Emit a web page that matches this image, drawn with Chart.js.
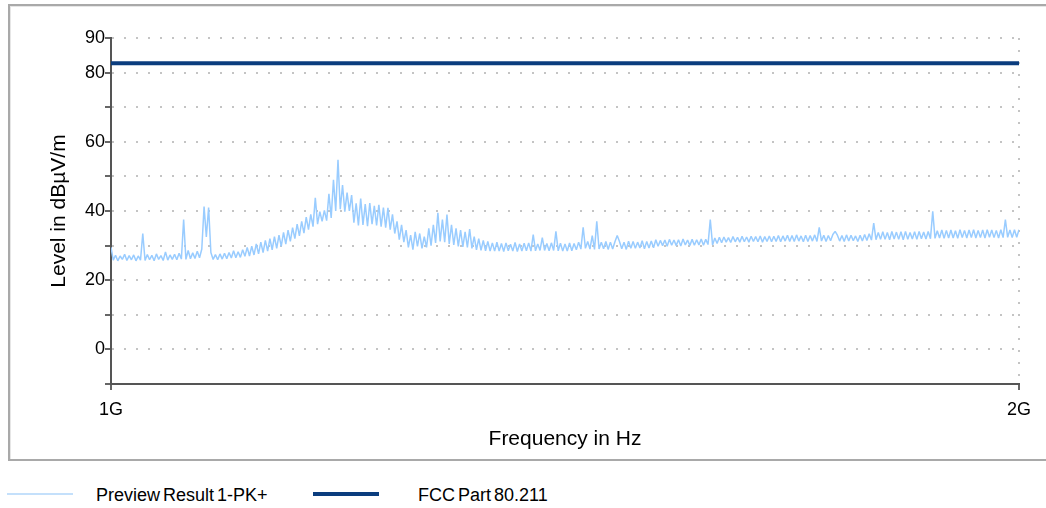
<!DOCTYPE html>
<html>
<head>
<meta charset="utf-8">
<script src="https://cdn.jsdelivr.net/npm/chart.js@4.4.1/dist/chart.umd.min.js"></script>
<style>
  html, body { margin: 0; padding: 0; background: #fff; width: 1046px; height: 508px; overflow: hidden; position: relative; font-family: "Liberation Sans", Arial, sans-serif; }
  #frame { position: absolute; left: 8px; top: 4px; width: 1060px; height: 453px; border: 2px solid #a9a9a9; box-shadow: inset 1px 1px 0 #e6e6e6; }
  #c { position: absolute; left: 0; top: 0; }
  .sw { position: absolute; display: block; }
  .lt { position: absolute; font-size: 18px; line-height: 20px; color: #000; white-space: nowrap; word-spacing: -2px; }
</style>
</head>
<body>
<div id="frame"></div>
<canvas id="c" width="1046" height="470"></canvas>
<div id="legend"></div>
<script>
// ---- data ----
const sweepStartMHz = 1000;   // first sweep point
const sweepStepMHz = 2.5;     // sweep step
const previewLevels = [
  29.5, 25.8, 27.2, 25.6, 27.0, 26.0, 27.5, 25.7, 27.1, 25.9,
  27.3, 25.6, 27.0, 25.8, 33.5, 25.7, 27.4, 25.9, 27.2, 25.6,
  27.6, 26.0, 27.1, 25.7, 28.2, 25.8, 27.3, 26.0, 27.5, 25.9,
  27.8, 26.1, 37.5, 26.0, 28.6, 26.2, 27.9, 26.3, 28.4, 26.5,
  29.0, 41.3, 32.5, 41.0, 28.0, 26.0, 27.4, 25.9, 27.6, 26.1,
  27.8, 26.2, 28.0, 26.4, 28.5, 26.5, 28.2, 26.6, 28.8, 26.9,
  29.5, 27.0, 29.8, 27.3, 30.5, 27.6, 31.0, 28.0, 31.5, 28.4,
  32.0, 28.8, 32.6, 29.2, 33.0, 29.8, 33.8, 30.4, 34.5, 31.2,
  35.2, 32.0, 36.2, 32.8, 37.0, 33.6, 38.2, 34.6, 39.0, 35.5,
  43.8, 36.2, 39.8, 37.0, 40.2, 37.2, 45.0, 38.0, 49.0, 40.0,
  54.8, 40.5, 47.5, 39.8, 45.3, 40.0, 44.6, 36.6, 42.2, 35.8,
  43.6, 36.0, 42.0, 35.6, 42.3, 36.2, 41.5, 35.8, 41.8, 35.5,
  41.0, 35.2, 40.9, 34.6, 39.0, 33.5, 37.0, 31.7, 36.0, 31.0,
  34.5, 29.5, 33.0, 28.8, 34.0, 29.8, 33.5, 29.2, 32.6, 29.5,
  35.0, 30.0, 36.0, 30.8, 39.5, 31.2, 37.5, 31.0, 39.0, 30.5,
  36.0, 30.2, 35.0, 29.8, 34.5, 29.6, 34.0, 29.5, 34.8, 29.2,
  32.6, 28.8, 32.0, 28.6, 31.5, 28.5, 31.2, 28.4, 30.8, 28.4,
  31.0, 28.4, 30.6, 28.3, 30.8, 28.5, 30.4, 28.4, 30.9, 28.3,
  30.5, 28.4, 30.7, 28.5, 30.8, 28.4, 33.2, 28.5, 30.5, 28.6,
  32.3, 28.6, 30.6, 28.5, 30.8, 28.6, 34.1, 28.5, 30.7, 28.4,
  30.5, 28.4, 30.8, 28.5, 30.6, 28.8, 31.0, 29.0, 35.3, 29.2,
  31.2, 29.0, 32.9, 28.9, 37.0, 29.0, 31.0, 29.1, 31.2, 28.9,
  31.0, 29.0, 31.1, 32.9, 31.2, 29.1, 31.0, 28.9, 31.3, 29.2,
  31.2, 29.2, 31.0, 29.3, 31.4, 29.1, 31.2, 29.3, 31.3, 29.4,
  31.7, 29.8, 31.5, 30.0, 31.6, 29.8, 31.8, 30.1, 31.6, 30.0,
  31.7, 29.9, 31.9, 30.2, 31.6, 30.0, 31.8, 30.1, 31.7, 30.2,
  31.9, 30.1, 31.8, 30.3, 37.5, 30.2, 32.2, 30.6, 32.4, 30.8,
  32.5, 31.0, 32.3, 30.9, 32.6, 31.1, 32.4, 31.0, 32.7, 31.1,
  32.5, 31.0, 32.7, 31.2, 32.6, 31.1, 32.8, 31.0, 32.6, 31.2,
  32.8, 31.1, 32.7, 31.2, 32.9, 31.1, 32.8, 31.3, 33.0, 31.2,
  32.9, 31.2, 33.1, 31.3, 32.8, 31.1, 33.0, 31.2, 32.9, 31.3,
  33.1, 31.2, 35.3, 31.3, 33.0, 31.2, 32.9, 31.4, 33.2, 34.1,
  33.0, 31.3, 32.9, 31.2, 33.1, 31.3, 33.0, 31.4, 32.8, 31.2,
  33.0, 31.3, 33.2, 31.5, 33.4, 31.6, 36.5, 31.7, 33.8, 31.8,
  34.0, 31.8, 33.8, 31.7, 34.1, 31.9, 33.9, 31.8, 34.0, 31.7,
  34.1, 31.8, 33.8, 31.9, 34.0, 31.8, 34.1, 32.0, 33.9, 31.9,
  34.1, 32.0, 39.9, 32.1, 34.3, 32.2, 34.5, 32.1, 34.4, 32.2,
  34.5, 32.2, 34.3, 32.1, 34.6, 32.3, 34.4, 32.2, 34.5, 32.3,
  34.6, 32.2, 34.4, 32.3, 34.5, 32.2, 34.6, 32.4, 34.5, 32.3,
  34.4, 32.2, 34.6, 32.3, 37.5, 32.4, 34.5, 32.3, 34.6, 32.4,
  34.6
];
const limitFreqMHz = [1000, 2000];
const limitLevels = [82.7, 82.7];
const seriesNames = ['Preview Result 1-PK+', 'FCC Part 80.211'];
const xTickValues = [1000, 2000];
const xTickLabels = ['1G', '2G'];
const yTickLabelValues = [0, 20, 40, 60, 80, 90];
const yMin = -10, yMax = 90, yStep = 10;
const xTitle = 'Frequency in Hz';
const yTitle = 'Level in dBµV/m';

// ---- build chart ----
const previewPoints = previewLevels.map((v, i) => ({ x: sweepStartMHz + i * sweepStepMHz, y: v }));
const limitPoints = limitFreqMHz.map((f, i) => ({ x: f, y: limitLevels[i] }));

const FONT = '"Liberation Sans", Arial, sans-serif';
const gridCfg = { color: '#c4c4c4', lineWidth: 2, drawTicks: true, tickLength: 6, tickColor: '#333', tickWidth: 1.5, tickBorderDash: [] };
const borderCfg = { display: true, color: '#555', width: 2, dash: [2, 10] };

const chart = new Chart(document.getElementById('c'), {
  type: 'line',
  data: {
    datasets: [
      { label: seriesNames[0], data: previewPoints, borderColor: '#99ccff', borderWidth: 1.5, borderJoinStyle: 'bevel', pointRadius: 0, tension: 0, fill: false },
      { label: seriesNames[1], data: limitPoints, borderColor: '#0b3d7e', borderWidth: 4, pointRadius: 0, tension: 0, fill: false }
    ]
  },
  options: {
    responsive: false,
    animation: false,
    devicePixelRatio: 1,
    layout: { padding: { top: 38, right: 27, left: 0, bottom: 0 } },
    plugins: { legend: { display: false }, tooltip: { enabled: false } },
    scales: {
      x: {
        type: 'linear', min: xTickValues[0], max: xTickValues[xTickValues.length - 1],
        afterBuildTicks: s => { s.ticks = xTickValues.map(v => ({ value: v })); },
        afterFit: s => { s.height = 86; },
        ticks: { autoSkip: false, maxRotation: 0, padding: 9, color: '#000', font: { family: FONT, size: 18 },
                 callback: v => { const k = xTickValues.indexOf(v); return k >= 0 ? xTickLabels[k] : ''; } },
        grid: gridCfg, border: borderCfg,
        title: { display: true, text: xTitle, color: '#000', font: { family: FONT, size: 21 }, padding: { top: 0, bottom: 18 } }
      },
      y: {
        min: yMin, max: yMax,
        afterFit: s => { s.width = 111; },
        ticks: { stepSize: yStep, autoSkip: false, padding: 0, color: '#000', font: { family: FONT, size: 18 },
                 callback: v => yTickLabelValues.includes(v) ? String(v) : '' },
        grid: gridCfg, border: borderCfg,
        title: { display: true, text: yTitle, color: '#000', font: { family: FONT, size: 21 }, padding: { top: 47, bottom: 0 } }
      }
    }
  }
});

// ---- HTML legend built from datasets ----
const legendSlots = [
  { swLeft: 7, swWidth: 66, swTop: 493, swH: 2, swColor: '#c4e0fb', textLeft: 96 },
  { swLeft: 313, swWidth: 66, swTop: 492, swH: 4, swColor: null, textLeft: 418 }
];
const legend = document.getElementById('legend');
chart.data.datasets.forEach((ds, i) => {
  const slot = legendSlots[i];
  const sw = document.createElement('span');
  sw.className = 'sw';
  sw.style.left = slot.swLeft + 'px';
  sw.style.top = slot.swTop + 'px';
  sw.style.width = slot.swWidth + 'px';
  sw.style.height = slot.swH + 'px';
  sw.style.background = slot.swColor || ds.borderColor;
  legend.appendChild(sw);
  const t = document.createElement('span');
  t.className = 'lt';
  t.style.left = slot.textLeft + 'px';
  t.style.top = '485px';
  t.textContent = ds.label;
  legend.appendChild(t);
});
</script>
</body>
</html>
